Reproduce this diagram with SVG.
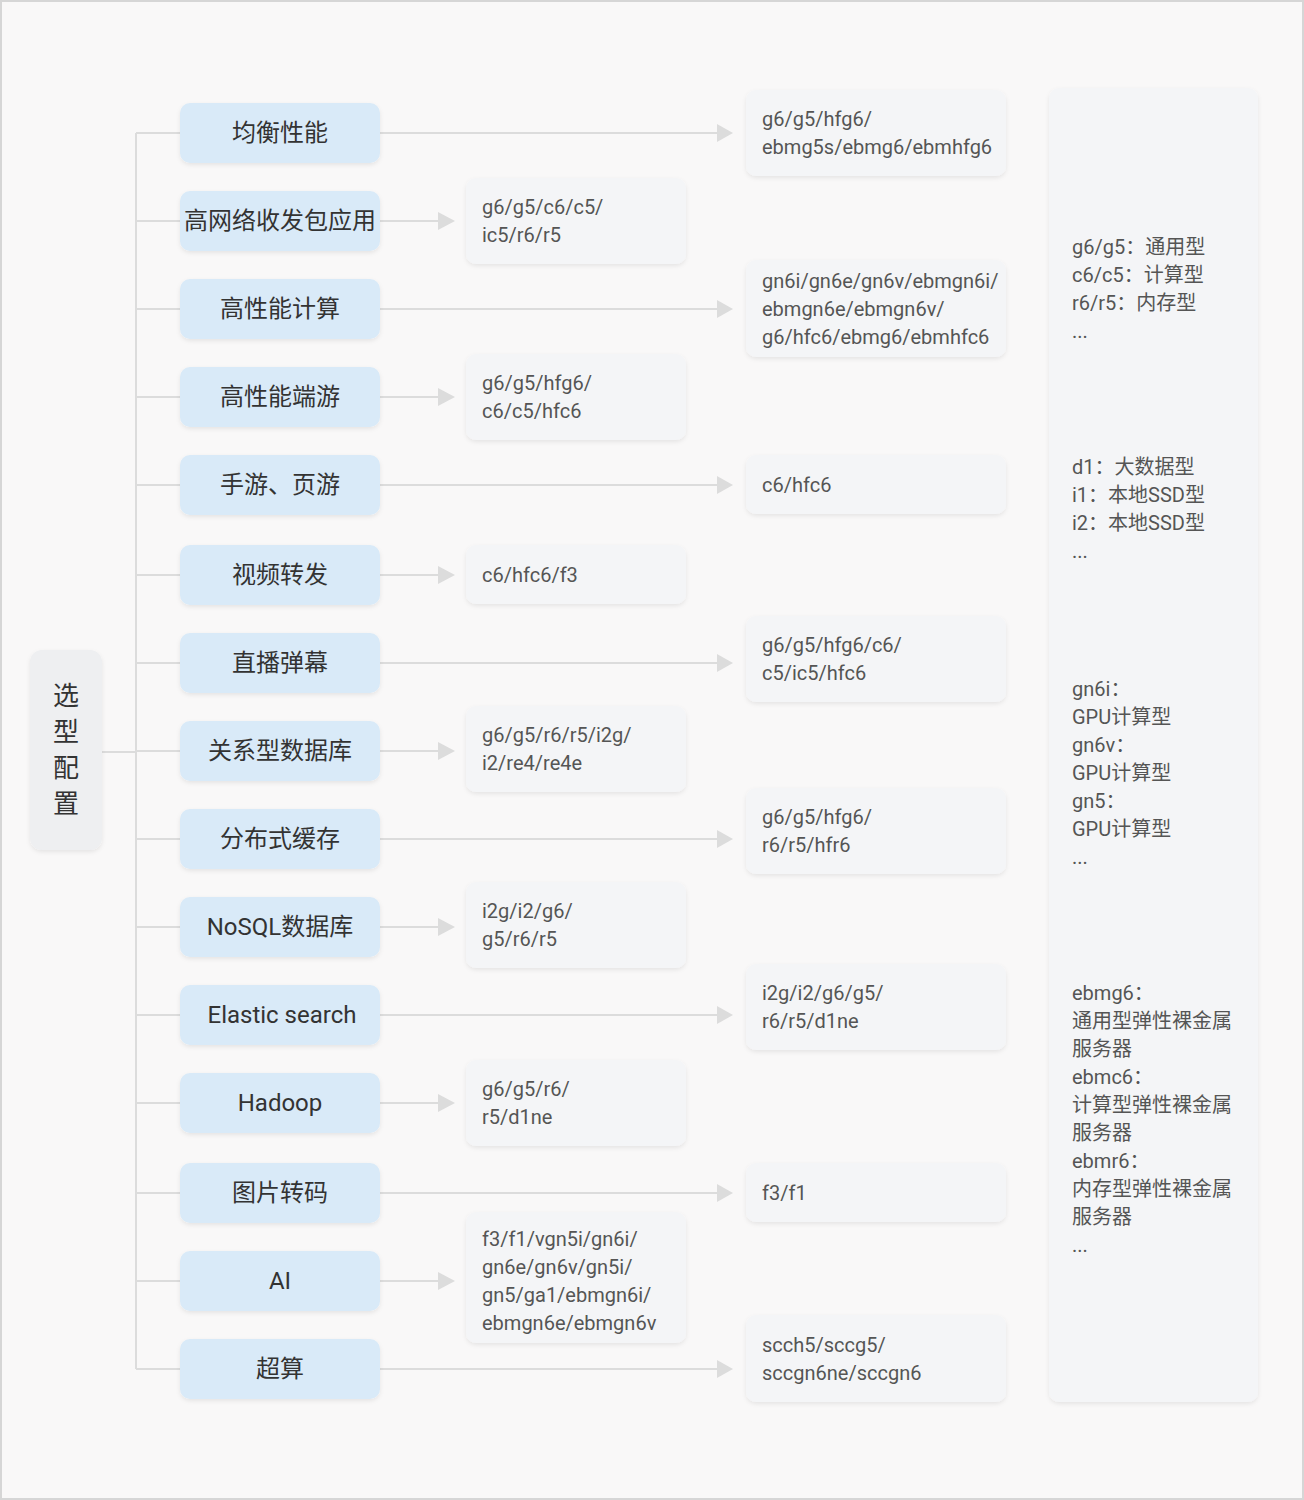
<svg xmlns="http://www.w3.org/2000/svg" width="1304" height="1500" viewBox="0 0 1304 1500">
<style>
text{font-family:Roboto,"Noto Sans CJK SC",sans-serif}
.root{fill:#eeeff1}
.l1{fill:#d9eaf8}
.l2{fill:#f4f5f7}
.t1{font-size:24px;fill:#333;text-anchor:middle}
.t0{font-size:26px;fill:#333;text-anchor:middle}
.t2{font-size:20px;fill:#555}
.cn{stroke:#dcdcdc;stroke-width:2;fill:none}
.ah{fill:#dcdcdc}
</style>
<defs>
<filter id="sh" x="-10%" y="-10%" width="120%" height="130%">
<feDropShadow dx="0" dy="2" stdDeviation="2" flood-color="#000" flood-opacity="0.08"/>
</filter>
</defs>
<rect x="1" y="1" width="1302" height="1498" fill="#f9f8f8" stroke="#d6d6d6" stroke-width="2"/>

<g id="connectors">
<path class="cn" d="M102,752H136M136,133V1369M136,133H180M136,221H180M136,309H180M136,397H180M136,485H180M136,575H180M136,663H180M136,751H180M136,839H180M136,927H180M136,1015H180M136,1103H180M136,1193H180M136,1281H180M136,1369H180"/>
<path class="cn" d="M380,133H718M380,221H440M380,309H718M380,397H440M380,485H718M380,575H440M380,663H718M380,751H440M380,839H718M380,927H440M380,1015H718M380,1103H440M380,1193H718M380,1281H440M380,1369H718"/>
<g class="ah">
<polygon points="717,124 733,133 717,142"/>
<polygon points="438,212 455,221 438,230"/>
<polygon points="717,300 733,309 717,318"/>
<polygon points="438,388 455,397 438,406"/>
<polygon points="717,476 733,485 717,494"/>
<polygon points="438,566 455,575 438,584"/>
<polygon points="717,654 733,663 717,672"/>
<polygon points="438,742 455,751 438,760"/>
<polygon points="717,830 733,839 717,848"/>
<polygon points="438,918 455,927 438,936"/>
<polygon points="717,1006 733,1015 717,1024"/>
<polygon points="438,1094 455,1103 438,1112"/>
<polygon points="717,1184 733,1193 717,1202"/>
<polygon points="438,1272 455,1281 438,1290"/>
<polygon points="717,1360 733,1369 717,1378"/>
</g>
</g>

<g id="root">
<rect class="root" x="30" y="650" width="72" height="200" rx="12" filter="url(#sh)"/>
<text class="t0" x="66" y="705">选<tspan x="66" dy="36">型</tspan><tspan x="66" dy="36">配</tspan><tspan x="66" dy="36">置</tspan></text>
</g>

<g id="n1"><rect class="l1" x="180" y="103" width="200" height="60" rx="10" filter="url(#sh)"/><text class="t1" x="280" y="141">均衡性能</text></g>
<g id="n2"><rect class="l1" x="180" y="191" width="200" height="60" rx="10" filter="url(#sh)"/><text class="t1" x="280" y="229">高网络收发包应用</text></g>
<g id="n3"><rect class="l1" x="180" y="279" width="200" height="60" rx="10" filter="url(#sh)"/><text class="t1" x="280" y="317">高性能计算</text></g>
<g id="n4"><rect class="l1" x="180" y="367" width="200" height="60" rx="10" filter="url(#sh)"/><text class="t1" x="280" y="405">高性能端游</text></g>
<g id="n5"><rect class="l1" x="180" y="455" width="200" height="60" rx="10" filter="url(#sh)"/><text class="t1" x="280" y="493">手游、页游</text></g>
<g id="n6"><rect class="l1" x="180" y="545" width="200" height="60" rx="10" filter="url(#sh)"/><text class="t1" x="280" y="583">视频转发</text></g>
<g id="n7"><rect class="l1" x="180" y="633" width="200" height="60" rx="10" filter="url(#sh)"/><text class="t1" x="280" y="671">直播弹幕</text></g>
<g id="n8"><rect class="l1" x="180" y="721" width="200" height="60" rx="10" filter="url(#sh)"/><text class="t1" x="280" y="759">关系型数据库</text></g>
<g id="n9"><rect class="l1" x="180" y="809" width="200" height="60" rx="10" filter="url(#sh)"/><text class="t1" x="280" y="847">分布式缓存</text></g>
<g id="n10"><rect class="l1" x="180" y="897" width="200" height="60" rx="10" filter="url(#sh)"/><text class="t1" x="280" y="935">NoSQL数据库</text></g>
<g id="n11"><rect class="l1" x="180" y="985" width="200" height="60" rx="10" filter="url(#sh)"/><text class="t1" x="282" y="1023">Elastic search</text></g>
<g id="n12"><rect class="l1" x="180" y="1073" width="200" height="60" rx="10" filter="url(#sh)"/><text class="t1" x="280" y="1111">Hadoop</text></g>
<g id="n13"><rect class="l1" x="180" y="1163" width="200" height="60" rx="10" filter="url(#sh)"/><text class="t1" x="280" y="1201">图片转码</text></g>
<g id="n14"><rect class="l1" x="180" y="1251" width="200" height="60" rx="10" filter="url(#sh)"/><text class="t1" x="280" y="1289">AI</text></g>
<g id="n15"><rect class="l1" x="180" y="1339" width="200" height="60" rx="10" filter="url(#sh)"/><text class="t1" x="280" y="1377">超算</text></g>

<g id="m1"><rect class="l2" x="746" y="90" width="260" height="86" rx="10" filter="url(#sh)"/><text class="t2" x="762" y="126">g6/g5/hfg6/<tspan x="762" dy="28">ebmg5s/ebmg6/ebmhfg6</tspan></text></g>
<g id="m2"><rect class="l2" x="466" y="178" width="220" height="86" rx="10" filter="url(#sh)"/><text class="t2" x="482" y="214">g6/g5/c6/c5/<tspan x="482" dy="28">ic5/r6/r5</tspan></text></g>
<g id="m3"><rect class="l2" x="746" y="260" width="260" height="97" rx="10" filter="url(#sh)"/><text class="t2" x="762" y="288">gn6i/gn6e/gn6v/ebmgn6i/<tspan x="762" dy="28">ebmgn6e/ebmgn6v/</tspan><tspan x="762" dy="28">g6/hfc6/ebmg6/ebmhfc6</tspan></text></g>
<g id="m4"><rect class="l2" x="466" y="354" width="220" height="86" rx="10" filter="url(#sh)"/><text class="t2" x="482" y="390">g6/g5/hfg6/<tspan x="482" dy="28">c6/c5/hfc6</tspan></text></g>
<g id="m5"><rect class="l2" x="746" y="455" width="260" height="59" rx="10" filter="url(#sh)"/><text class="t2" x="762" y="492">c6/hfc6</text></g>
<g id="m6"><rect class="l2" x="466" y="545" width="220" height="59" rx="10" filter="url(#sh)"/><text class="t2" x="482" y="582">c6/hfc6/f3</text></g>
<g id="m7"><rect class="l2" x="746" y="616" width="260" height="86" rx="10" filter="url(#sh)"/><text class="t2" x="762" y="652">g6/g5/hfg6/c6/<tspan x="762" dy="28">c5/ic5/hfc6</tspan></text></g>
<g id="m8"><rect class="l2" x="466" y="706" width="220" height="86" rx="10" filter="url(#sh)"/><text class="t2" x="482" y="742">g6/g5/r6/r5/i2g/<tspan x="482" dy="28">i2/re4/re4e</tspan></text></g>
<g id="m9"><rect class="l2" x="746" y="788" width="260" height="86" rx="10" filter="url(#sh)"/><text class="t2" x="762" y="824">g6/g5/hfg6/<tspan x="762" dy="28">r6/r5/hfr6</tspan></text></g>
<g id="m10"><rect class="l2" x="466" y="882" width="220" height="86" rx="10" filter="url(#sh)"/><text class="t2" x="482" y="918">i2g/i2/g6/<tspan x="482" dy="28">g5/r6/r5</tspan></text></g>
<g id="m11"><rect class="l2" x="746" y="964" width="260" height="86" rx="10" filter="url(#sh)"/><text class="t2" x="762" y="1000">i2g/i2/g6/g5/<tspan x="762" dy="28">r6/r5/d1ne</tspan></text></g>
<g id="m12"><rect class="l2" x="466" y="1060" width="220" height="86" rx="10" filter="url(#sh)"/><text class="t2" x="482" y="1096">g6/g5/r6/<tspan x="482" dy="28">r5/d1ne</tspan></text></g>
<g id="m13"><rect class="l2" x="746" y="1163" width="260" height="59" rx="10" filter="url(#sh)"/><text class="t2" x="762" y="1200">f3/f1</text></g>
<g id="m14"><rect class="l2" x="466" y="1212" width="220" height="131" rx="10" filter="url(#sh)"/><text class="t2" x="482" y="1246">f3/f1/vgn5i/gn6i/<tspan x="482" dy="28">gn6e/gn6v/gn5i/</tspan><tspan x="482" dy="28">gn5/ga1/ebmgn6i/</tspan><tspan x="482" dy="28">ebmgn6e/ebmgn6v</tspan></text></g>
<g id="m15"><rect class="l2" x="746" y="1315" width="260" height="87" rx="10" filter="url(#sh)"/><text class="t2" x="762" y="1352">scch5/sccg5/<tspan x="762" dy="28">sccgn6ne/sccgn6</tspan></text></g>

<g id="panel">
<rect class="l2" x="1049" y="88" width="209" height="1314" rx="10" filter="url(#sh)"/>
<text class="t2" x="1072" y="254">g6/g5：通用型<tspan x="1072" dy="28">c6/c5：计算型</tspan><tspan x="1072" dy="28">r6/r5：内存型</tspan><tspan x="1072" dy="28">...</tspan></text>
<text class="t2" x="1072" y="474">d1：大数据型<tspan x="1072" dy="28">i1：本地SSD型</tspan><tspan x="1072" dy="28">i2：本地SSD型</tspan><tspan x="1072" dy="28">...</tspan></text>
<text class="t2" x="1072" y="696">gn6i：<tspan x="1072" dy="28">GPU计算型</tspan><tspan x="1072" dy="28">gn6v：</tspan><tspan x="1072" dy="28">GPU计算型</tspan><tspan x="1072" dy="28">gn5：</tspan><tspan x="1072" dy="28">GPU计算型</tspan><tspan x="1072" dy="28">...</tspan></text>
<text class="t2" x="1072" y="1000">ebmg6：<tspan x="1072" dy="28">通用型弹性裸金属</tspan><tspan x="1072" dy="28">服务器</tspan><tspan x="1072" dy="28">ebmc6：</tspan><tspan x="1072" dy="28">计算型弹性裸金属</tspan><tspan x="1072" dy="28">服务器</tspan><tspan x="1072" dy="28">ebmr6：</tspan><tspan x="1072" dy="28">内存型弹性裸金属</tspan><tspan x="1072" dy="28">服务器</tspan><tspan x="1072" dy="28">...</tspan></text>
</g>
</svg>
